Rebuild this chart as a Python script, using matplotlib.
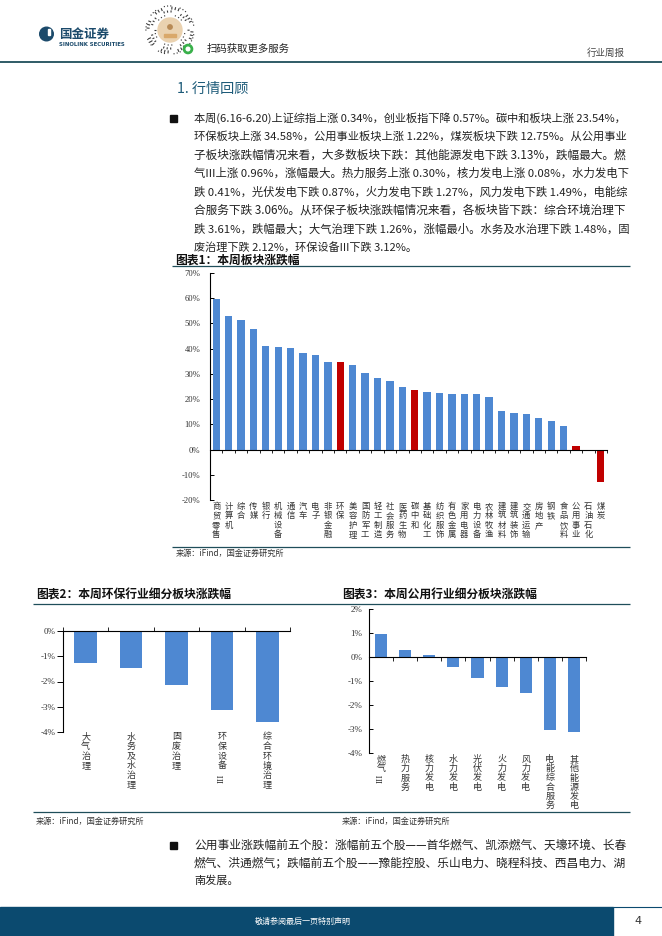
import matplotlib
matplotlib.use('Agg')
import matplotlib.pyplot as plt
import numpy as np
import re
from matplotlib.font_manager import FontProperties
from matplotlib.transforms import blended_transform_factory
from matplotlib.patches import Rectangle, Circle

W, H = 662, 936
CJK = ['Noto Sans CJK SC', 'DejaVu Sans']
SERIF = ['Liberation Serif', 'DejaVu Serif']
plt.rcParams['font.family'] = CJK

# ---------------- data ----------------
sectors = ['商贸零售', '计算机', '综合', '传媒', '银行', '机械设备', '通信', '汽车', '电子',
           '非银金融', '环保', '美容护理', '国防军工', '轻工制造', '社会服务', '医药生物',
           '碳中和', '基础化工', '纺织服饰', '有色金属', '家用电器', '电力设备', '农林牧渔',
           '建筑材料', '建筑装饰', '交通运输', '房地产', '钢铁', '食品饮料', '公用事业',
           '石油石化', '煤炭']
sector_chg = [59.8, 53.0, 51.5, 47.6, 41.2, 40.8, 40.4, 38.4, 37.6, 34.9, 34.58, 33.6,
              30.5, 28.5, 27.3, 24.9, 23.54, 23.0, 22.6, 22.2, 22.2, 22.2, 21.0, 15.4,
              14.6, 13.9, 12.7, 11.5, 9.5, 1.22, -0.5, -12.75]
highlight = ['环保', '碳中和', '公用事业', '煤炭']
sector_ticks = [-20, -10, 0, 10, 20, 30, 40, 50, 60, 70]

env_subs = ['大气治理', '水务及水治理', '固废治理', '环保设备III', '综合环境治理']
env_chg = [-1.26, -1.48, -2.12, -3.12, -3.61]
env_ticks = [-4, -3, -2, -1, 0]

util_subs = ['燃气III', '热力服务', '核力发电', '水力发电', '光伏发电', '火力发电',
             '风力发电', '电能综合服务', '其他能源发电']
util_chg = [0.96, 0.30, 0.08, -0.41, -0.87, -1.27, -1.49, -3.06, -3.13]
util_ticks = [-4, -3, -2, -1, 0, 1, 2]

para1 = ['本周(6.16-6.20)上证综指上涨 0.34%，创业板指下降 0.57%。碳中和板块上涨 23.54%，',
         '环保板块上涨 34.58%，公用事业板块上涨 1.22%，煤炭板块下跌 12.75%。从公用事业',
         '子板块涨跌幅情况来看，大多数板块下跌：其他能源发电下跌 3.13%，跌幅最大。燃',
         '气III上涨 0.96%，涨幅最大。热力服务上涨 0.30%，核力发电上涨 0.08%，水力发电下',
         '跌 0.41%，光伏发电下跌 0.87%，火力发电下跌 1.27%，风力发电下跌 1.49%，电能综',
         '合服务下跌 3.06%。从环保子板块涨跌幅情况来看，各板块皆下跌：综合环境治理下',
         '跌 3.61%，跌幅最大；大气治理下跌 1.26%，涨幅最小。水务及水治理下跌 1.48%，固',
         '废治理下跌 2.12%，环保设备III下跌 3.12%。']
para2 = ['公用事业涨跌幅前五个股：涨幅前五个股——首华燃气、凯添燃气、天壕环境、长春',
         '燃气、洪通燃气；跌幅前五个股——豫能控股、乐山电力、晓程科技、西昌电力、湖',
         '南发展。']

# ---------------- styles ----------------
BLUE = '#4E88D2'
RED = '#C00000'
TEAL = '#1F4E5A'
NAVY = '#0B4A6F'
TXT = '#222222'

fig = plt.figure(figsize=(W / 100, H / 100), dpi=100)
page = fig.add_axes([0, 0, 1, 1])
page.set_xlim(0, W)
page.set_ylim(H, 0)
page.axis('off')
renderer = fig.canvas.get_renderer()


def pax(l, t, r, b):
    return fig.add_axes([l / W, 1 - b / H, (r - l) / W, (b - t) / H])


def hline(y, x0, x1, color=TEAL, lw=0.9):
    page.plot([x0, x1], [y, y], color=color, lw=lw, solid_capstyle='butt')


def fit_line(s, x0, x1, y, fs, justify=True, color=TXT):
    fp = FontProperties(family=CJK, size=fs)
    w = renderer.get_text_width_height_descent(s, fp, ismath=False)[0]
    size = fs
    if justify:
        size = fs * (x1 - x0) / w
        size = min(max(size, fs * 0.94), fs * 1.06)
    page.text(x0, y, s, fontsize=size, color=color, ha='left', va='center')


# ---------------- header ----------------
hline(62, 0, W, color=TEAL, lw=1.3)
page.add_patch(Circle((46.5, 34), 6.8, color='#1B4A6B', zorder=3))
page.add_patch(Rectangle((47.5, 28.5), 2.2, 6.0, color='white', zorder=4))
page.text(59, 34, '国金证券', fontsize=9, fontweight='bold', color='#1B4A6B',
          ha='left', va='center')
page.text(59, 44.5, 'SINOLINK SECURITIES', fontsize=3.9, fontweight='bold',
          color='#1B4A6B', ha='left', va='center', family=['DejaVu Sans'])

# decorative mini-program code
cx, cy = 170, 30
for ring, r in enumerate([14.5, 17.5, 20.5, 23.5]):
    n = 26 + ring * 7
    for j in range(n):
        if (j * 7 + ring * 3) % 5 in (0, 3):
            continue
        a = 2 * np.pi * j / n + ring * 0.2
        L = 1.2 + ((j * 3 + ring) % 3) * 0.9
        page.plot([cx + r * np.cos(a), cx + (r + L) * np.cos(a)],
                  [cy + r * np.sin(a), cy + (r + L) * np.sin(a)],
                  color='#3a3a3a', lw=0.8, solid_capstyle='butt')
page.add_patch(Circle((cx, cy), 12, color='#EAD2B0', zorder=3))
page.add_patch(Circle((cx, cy - 3), 2.2, color='#B88A55', zorder=4))
page.add_patch(Rectangle((cx - 6, cy + 4), 12, 3, color='#D9A86A', zorder=4))
page.add_patch(Circle((188, 49), 4.6, color='#38B04A', zorder=5))
page.add_patch(Circle((188, 49), 1.8, color='white', zorder=6))
page.text(207, 49, '扫码获取更多服务', fontsize=7.5, color=TXT, ha='left', va='center')
page.text(625, 53.5, '行业周报', fontsize=6.8, color='#444444', ha='right', va='center')

# ---------------- section heading & paragraph ----------------
page.text(177, 89, '1. 行情回顾', fontsize=10.2, color='#1D5B79', ha='left', va='center')
page.add_patch(Rectangle((170, 115), 6.5, 6.5, color='#111111'))
for k, line in enumerate(para1):
    fit_line(line, 194, 628, 118.3 + 18.4 * k, 8.0, justify=(k < len(para1) - 1))

# ---------------- chart 1 ----------------
page.text(175, 260, '图表1：本周板块涨跌幅', fontsize=8.5, fontweight='bold',
          color='#111111', ha='left', va='center')
hline(266, 172, 630)
hline(547, 172, 630)
page.text(176, 553, '来源：iFind，国金证券研究所', fontsize=5.9, color='#333333',
          ha='left', va='center')

ax1 = pax(210, 273, 607, 500)
x1 = np.arange(len(sectors))
cols1 = [RED if s in highlight else BLUE for s in sectors]
ax1.bar(x1, sector_chg, width=0.59, color=cols1, zorder=2)
ax1.set_xlim(-0.5, len(sectors) - 0.5)
ax1.set_ylim(-20, 70)
ax1.set_yticks(sector_ticks)
ax1.set_yticklabels([f'{v}%' for v in sector_ticks], family=SERIF, fontsize=6.2,
                    color='#333333')
ax1.tick_params(axis='y', direction='in', length=3, width=0.7, pad=7)
ax1.set_xticks(np.arange(-0.5, len(sectors), 1))
ax1.set_xticklabels([])
ax1.tick_params(axis='x', direction='out', length=2.5, width=0.6)
for sp in ['top', 'right']:
    ax1.spines[sp].set_visible(False)
ax1.spines['bottom'].set_position(('data', 0))
ax1.spines['left'].set_linewidth(0.8)
ax1.spines['bottom'].set_linewidth(0.8)


def vlabels(ax, labels, ytop, fs, lsp, dy):
    tr = blended_transform_factory(ax.transData, page.transData)
    for i, lab in enumerate(labels):
        toks = re.findall(r'III|.', lab)
        body = [t for t in toks if t != 'III']
        ax.text(i, ytop - 0.55 * dy, '\n'.join(body), transform=tr, ha='center',
                va='top', fontsize=fs, linespacing=lsp, color='#333333',
                clip_on=False)
        if 'III' in toks:
            ax.text(i, ytop + (len(body) - 0.5) * dy + 0.5 * dy, 'III', transform=tr,
                    ha='center', va='center', fontsize=fs * 1.05, rotation=90,
                    family=SERIF, color='#333333', clip_on=False)


vlabels(ax1, sectors, 507, 6.0, 1.06, 9.3)

# ---------------- charts 2 & 3 frame ----------------
page.text(36, 595, '图表2：本周环保行业细分板块涨跌幅', fontsize=8.5, fontweight='bold',
          color='#111111', ha='left', va='center')
page.text(342, 595, '图表3：本周公用行业细分板块涨跌幅', fontsize=8.5, fontweight='bold',
          color='#111111', ha='left', va='center')
hline(604, 33, 630)
hline(812, 33, 630)
page.text(36, 821, '来源：iFind，国金证券研究所', fontsize=5.9, color='#333333',
          ha='left', va='center')
page.text(342, 821, '来源：iFind，国金证券研究所', fontsize=5.9, color='#333333',
          ha='left', va='center')

# ---------------- chart 2 ----------------
ax2 = pax(63, 631, 290, 732)
x2 = np.arange(len(env_subs))
ax2.bar(x2, env_chg, width=0.5, color=BLUE, zorder=2)
ax2.set_xlim(-0.5, len(env_subs) - 0.5)
ax2.set_ylim(-4, 0)
ax2.set_yticks(env_ticks)
ax2.set_yticklabels([f'{v}%' for v in env_ticks], family=SERIF, fontsize=6.5,
                    color='#333333')
ax2.tick_params(axis='y', direction='out', length=4, width=0.7, pad=1.5)
ax2.set_xticks(np.arange(-0.5, len(env_subs), 1))
ax2.set_xticklabels([])
ax2.tick_params(axis='x', direction='in', length=3, width=0.6)
for sp in ['top', 'right']:
    ax2.spines[sp].set_visible(False)
ax2.spines['bottom'].set_position(('data', 0))
ax2.spines['left'].set_linewidth(0.8)
ax2.spines['bottom'].set_linewidth(0.8)
vlabels(ax2, env_subs, 738, 6.5, 1.08, 10.0)

# ---------------- chart 3 ----------------
ax3 = pax(369, 609, 586, 753)
x3 = np.arange(len(util_subs))
ax3.bar(x3, util_chg, width=0.5, color=BLUE, zorder=2)
ax3.set_xlim(-0.5, len(util_subs) - 0.5)
ax3.set_ylim(-4, 2)
ax3.set_yticks(util_ticks)
ax3.set_yticklabels([f'{v}%' for v in util_ticks], family=SERIF, fontsize=6.5,
                    color='#333333')
ax3.tick_params(axis='y', direction='in', length=3, width=0.7, pad=5)
ax3.set_xticks(np.arange(-0.5, len(util_subs), 1))
ax3.set_xticklabels([])
ax3.tick_params(axis='x', direction='out', length=3, width=0.6)
for sp in ['top', 'right']:
    ax3.spines[sp].set_visible(False)
ax3.spines['bottom'].set_position(('data', 0))
ax3.spines['left'].set_linewidth(0.8)
ax3.spines['bottom'].set_linewidth(0.8)
vlabels(ax3, util_subs, 760, 6.5, 1.04, 9.3)

# ---------------- bottom paragraph ----------------
page.add_patch(Rectangle((170, 842), 6.5, 6.5, color='#111111'))
for k, line in enumerate(para2):
    fit_line(line, 194, 628, 845.3 + 17.6 * k, 8.0, justify=(k < len(para2) - 1))

# ---------------- footer ----------------
page.add_patch(Rectangle((0, 907), 613, 29, color=NAVY))
hline(907.3, 613, 662, color=NAVY, lw=0.8)
page.text(303, 921, '敬请参阅最后一页特别声明', fontsize=5.8, color='white',
          ha='center', va='center')
page.text(638, 921.5, '4', fontsize=8, color='#333333', ha='center', va='center',
          family=['DejaVu Sans'])

fig.savefig('out.png', dpi=100)
